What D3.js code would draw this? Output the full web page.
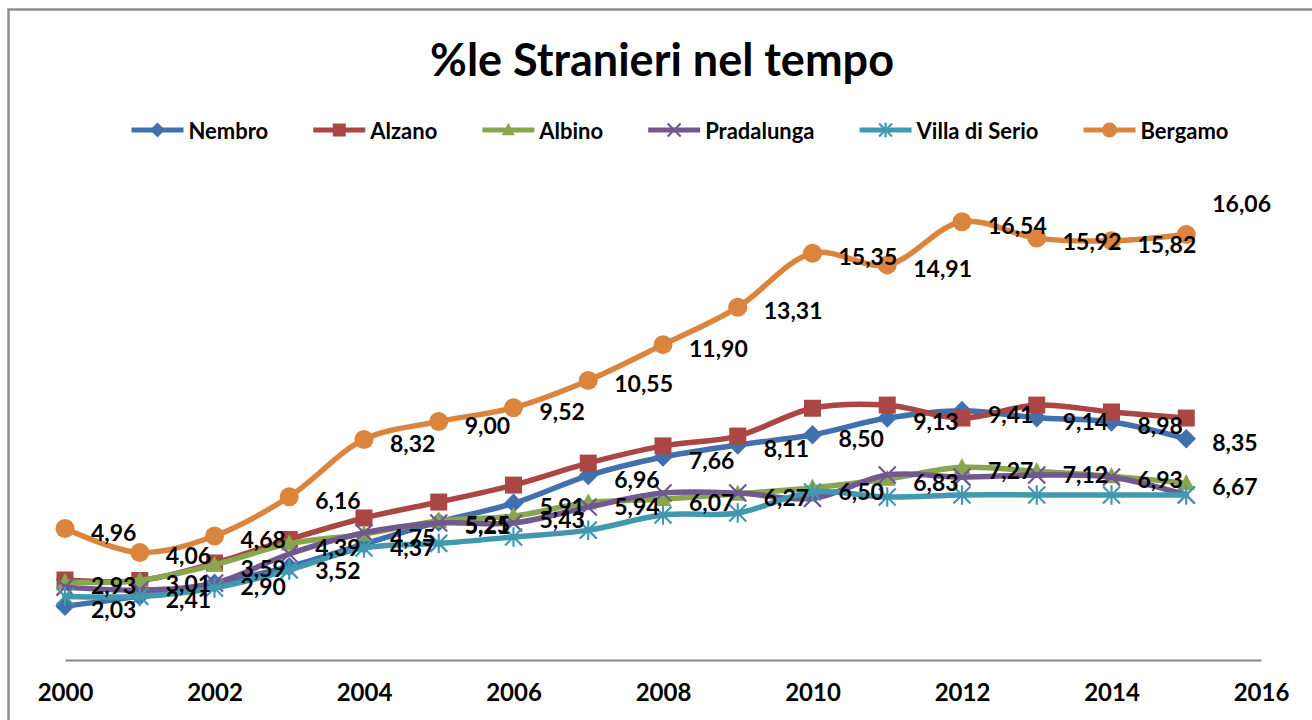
<!DOCTYPE html>
<html>
<head>
<meta charset="utf-8">
<script src="https://cdn.jsdelivr.net/npm/d3@7"></script>
<style>
  html, body { margin: 0; padding: 0; background: #fff; }
  svg { display: block; }
  text { font-family: Lato, "Open Sans", sans-serif; font-weight: 700; fill: #000; }
</style>
</head>
<body>
<svg id="chart" width="1312" height="720"></svg>
<script>
// ---------------- data ----------------
const title = "%le Stranieri nel tempo";
const years = [2000, 2001, 2002, 2003, 2004, 2005, 2006, 2007, 2008, 2009, 2010, 2011, 2012, 2013, 2014, 2015];
const xTicks = [2000, 2002, 2004, 2006, 2008, 2010, 2012, 2014, 2016];
const seriesNames = ["Nembro", "Alzano", "Albino", "Pradalunga", "Villa di Serio", "Bergamo"];

const nembro     = [2.03, 2.41, 2.90, 3.52, 4.37, 5.21, 5.91, 6.96, 7.66, 8.11, 8.50, 9.13, 9.41, 9.14, 8.98, 8.35];
const alzano     = [3.02, 3.00, 3.66, 4.55, 5.36, 5.96, 6.60, 7.43, 8.08, 8.45, 9.50, 9.62, 9.13, 9.62, 9.36, 9.13];
const albino     = [2.93, 3.01, 3.59, 4.39, 4.75, 5.25, 5.43, 5.94, 6.07, 6.27, 6.50, 6.83, 7.27, 7.12, 6.93, 6.67];
const pradalunga = [2.75, 2.64, 2.90, 4.00, 4.80, 5.17, 5.17, 5.77, 6.30, 6.30, 6.10, 6.98, 6.90, 6.98, 6.90, 6.23];
const villa      = [2.40, 2.40, 2.72, 3.40, 4.23, 4.40, 4.64, 4.90, 5.47, 5.55, 6.34, 6.15, 6.23, 6.23, 6.23, 6.23];
const bergamo    = [4.96, 4.06, 4.68, 6.16, 8.32, 9.00, 9.52, 10.55, 11.90, 13.31, 15.35, 14.91, 16.54, 15.92, 15.82, 16.06];

const seriesValues = [nembro, alzano, albino, pradalunga, villa, bergamo];
const labelledSeries = ["Nembro", "Albino", "Bergamo"];

// ---------------- styles ----------------
const colors = {
  "Nembro": "#4170AC", "Alzano": "#AA4643", "Albino": "#89A54E",
  "Pradalunga": "#71588F", "Villa di Serio": "#4198AF", "Bergamo": "#DB843D"
};
const markers = {
  "Nembro": "diamond", "Alzano": "square", "Albino": "triangle",
  "Pradalunga": "x", "Villa di Serio": "star", "Bergamo": "circle"
};

const svg = d3.select("#chart");

// chart border
svg.append("rect")
  .attr("x", 8.5).attr("y", 9.5).attr("width", 1330).attr("height", 730)
  .attr("fill", "#fff").attr("stroke", "#8f8f8f").attr("stroke-width", 2.5);

// scales
const x = d3.scaleLinear().domain([2000, 2016]).range([65, 1261]);
const y = d3.scaleLinear().domain([0, 18]).range([660, 183]);

// title
svg.append("text")
  .attr("x", 662).attr("y", 76)
  .attr("text-anchor", "middle")
  .style("font-size", "45px")
  .text(title);

// x axis
const xAxis = d3.axisBottom(x).tickValues(xTicks).tickSize(0).tickPadding(24).tickFormat(d3.format("d"));
const gx = svg.append("g").attr("transform", `translate(0,${y(0)})`).call(xAxis);
gx.select(".domain").attr("stroke", "#878787").attr("stroke-width", 2.2);
gx.selectAll("text")
  .style("font-family", "Lato, sans-serif")
  .style("font-weight", 700)
  .style("font-size", "24px")
  .attr("fill", "#000");

// marker symbol path generator
function markerPath(type, s) {
  const h = s / 2;
  switch (type) {
    case "diamond": return `M0,${-h * 1.15}L${h * 1.15},0L0,${h * 1.15}L${-h * 1.15},0Z`;
    case "square": return `M${-h},${-h}H${h}V${h}H${-h}Z`;
    case "triangle": return `M0,${-h * 1.1}L${h},${h * 0.8}L${-h},${h * 0.8}Z`;
    case "x": return `M${-h},${-h}L${h},${h}M${h},${-h}L${-h},${h}`;
    case "star": return `M${-h},${-h}L${h},${h}M${h},${-h}L${-h},${h}M0,${-h * 1.15}V${h * 1.15}`;
    case "circle": return d3.symbol(d3.symbolCircle, Math.PI * h * h)();
  }
}
function drawMarker(g, type, color, cx, cy, s) {
  const p = g.append("path")
    .attr("d", markerPath(type, s))
    .attr("transform", `translate(${cx},${cy})`);
  if (type === "x" || type === "star") {
    p.attr("fill", "none").attr("stroke", color).attr("stroke-width", 2.2);
  } else {
    p.attr("fill", color).attr("stroke", "none");
  }
}

const line = d3.line()
  .x((d, i) => x(years[i]))
  .y(d => y(d))
  .curve(d3.curveCatmullRom.alpha(0.5));

const plot = svg.append("g");
seriesNames.forEach((name, si) => {
  const vals = seriesValues[si];
  const g = plot.append("g");
  g.append("path")
    .datum(vals)
    .attr("d", line)
    .attr("fill", "none")
    .attr("stroke", colors[name])
    .attr("stroke-width", 5.5)
    .attr("stroke-linejoin", "round")
    .attr("stroke-linecap", "round");
  vals.forEach((v, i) => {
    drawMarker(g, markers[name], colors[name], x(years[i]), y(v), markers[name] === "circle" ? 19 : 17);
  });
});

// data labels (placed to the right of each point)
const fmt = v => d3.format(".2f")(v).replace(".", ",");
const labels = svg.append("g");
labelledSeries.forEach(name => {
  const vals = seriesValues[seriesNames.indexOf(name)];
  vals.forEach((v, i) => {
    const lift = (name === "Bergamo" && i === vals.length - 1) ? -31 : 3;
    labels.append("text")
      .attr("x", x(years[i]) + 26)
      .attr("y", y(v) + lift)
      .attr("dominant-baseline", "central")
      .style("font-size", "23px")
      .text(fmt(v));
  });
});

// legend
const legend = svg.append("g");
const legendFont = 22;
const lineLen = 52, textGap = 5, itemGap = 45;
let items = [];
let cursor = 0;
const tmp = legend.append("g");
seriesNames.forEach(name => {
  const t = tmp.append("text").style("font-size", legendFont + "px").text(name);
  const w = t.node().getComputedTextLength();
  items.push({ name, x: cursor, w });
  cursor += lineLen + textGap + w + itemGap;
});
tmp.remove();
const totalW = cursor - itemGap;
const legendStart = 680 - totalW / 2;
const ly = 130;
items.forEach(it => {
  const x0 = legendStart + it.x;
  legend.append("line")
    .attr("x1", x0).attr("x2", x0 + lineLen)
    .attr("y1", ly).attr("y2", ly)
    .attr("stroke", colors[it.name]).attr("stroke-width", 5);
  drawMarker(legend, markers[it.name], colors[it.name], x0 + lineLen / 2, ly, markers[it.name] === "circle" ? 15 : 13);
  legend.append("text")
    .attr("x", x0 + lineLen + textGap)
    .attr("y", ly)
    .attr("dominant-baseline", "central")
    .style("font-size", legendFont + "px")
    .text(it.name);
});
</script>
</body>
</html>
